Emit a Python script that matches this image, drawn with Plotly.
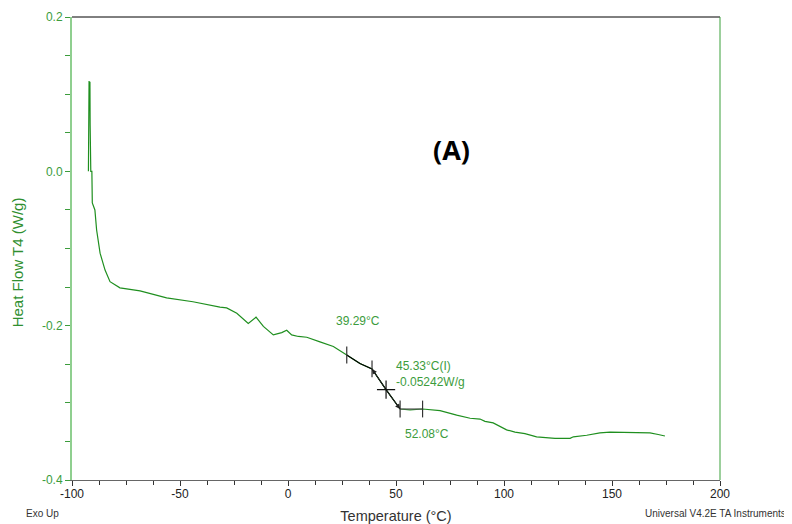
import plotly.graph_objects as go

# Heat-flow curve (Temperature °C, Heat Flow W/g)
temperature = [-92.4, -92.3, -92.1, -91.9, -91.7, -91.6, -91.5, -91.3, -91.0, -90.8, -90.6,
               -89.4, -88.6, -87.0, -84.7, -82.4, -77.8, -68.5, -56.2, -44.0, -31.5,
               -28.4, -23.7, -18.4, -14.8, -11.4, -6.8, -2.9, -0.6, 1.7, 4.8, 8.7,
               14.8, 21.0, 27.2, 33.3, 38.9, 45.4, 51.9, 56.5, 62.3, 70.4, 78.1,
               84.3, 88.9, 91.2, 95.0, 98.1, 101.2, 105.1, 109.7, 115.1, 118.2,
               123.6, 130.6, 132.1, 138.3, 144.4, 149.1, 159.9, 167.6, 171.4, 174.5]
heat_flow = [0.0, 0.112, 0.117, 0.108, 0.116, 0.06, 0.004, 0.0, 0.0, 0.0, -0.041,
             -0.050, -0.076, -0.106, -0.128, -0.143, -0.151, -0.155, -0.164, -0.169, -0.176,
             -0.177, -0.184, -0.197, -0.189, -0.201, -0.212, -0.209, -0.206, -0.212, -0.214, -0.215,
             -0.221, -0.227, -0.238, -0.249, -0.256, -0.283, -0.308, -0.309, -0.308, -0.310, -0.316,
             -0.320, -0.321, -0.324, -0.326, -0.331, -0.335, -0.338, -0.340, -0.344, -0.345,
             -0.346, -0.346, -0.344, -0.342, -0.339, -0.338, -0.339, -0.339, -0.341, -0.343]

# Glass-transition analysis
tg_line_t = [27.2, 33.3, 38.9, 45.4, 51.9]
tg_line_y = [-0.238, -0.249, -0.256, -0.283, -0.308]
end_line_t = [51.9, 62.3]
end_line_y = [-0.308, -0.308]
tick_t = [27.2, 38.9, 51.9, 62.3]
tick_y = [-0.238, -0.256, -0.308, -0.308]
inflection_t = [45.4]
inflection_y = [-0.283]

x_ticks = [-100, -50, 0, 50, 100, 150, 200]
x_ticklabels = ["-100", "-50", "0", "50", "100", "150", "200"]
y_ticks = [-0.4, -0.2, 0.0, 0.2]
y_ticklabels = ["-0.4", "-0.2", "0.0", "0.2"]

curve_color = "#1f8f1f"
text_green = "#3c9c3c"

fig = go.Figure()
fig.add_trace(go.Scatter(x=temperature, y=heat_flow, mode="lines",
                         line=dict(color=curve_color, width=1.2), showlegend=False))
fig.add_trace(go.Scatter(x=tg_line_t, y=tg_line_y, mode="lines",
                         line=dict(color="black", width=1.2), showlegend=False))
fig.add_trace(go.Scatter(x=end_line_t, y=end_line_y, mode="lines",
                         line=dict(color="#555555", width=1.2), showlegend=False))
fig.add_trace(go.Scatter(x=tick_t, y=tick_y, mode="markers",
                         marker=dict(symbol="line-ns", size=12, line=dict(color="#333333", width=1.2)),
                         showlegend=False))
fig.add_trace(go.Scatter(x=inflection_t, y=inflection_y, mode="markers",
                         marker=dict(symbol="cross-thin", size=13, line=dict(color="#111111", width=1.2)),
                         showlegend=False))

# arrows from inflection to onset / end points
fig.add_annotation(x=38.9, y=-0.256, ax=45.4, ay=-0.283, xref="x", yref="y", axref="x", ayref="y",
                   showarrow=True, arrowhead=2, arrowsize=1, arrowwidth=1, arrowcolor="#222222", text="")
fig.add_annotation(x=51.9, y=-0.308, ax=45.4, ay=-0.283, xref="x", yref="y", axref="x", ayref="y",
                   showarrow=True, arrowhead=2, arrowsize=1, arrowwidth=1, arrowcolor="#222222", text="")

fig.add_annotation(x=32.4, y=-0.194, text="39.29°C", showarrow=False,
                   font=dict(size=12, color=text_green, family="Liberation Sans, Arial"))
fig.add_annotation(x=49.3, y=-0.263, text="45.33°C(I)<br>-0.05242W/g", showarrow=False,
                   xanchor="left", align="left",
                   font=dict(size=12, color=text_green, family="Liberation Sans, Arial"))
fig.add_annotation(x=64.4, y=-0.340, text="52.08°C", showarrow=False,
                   font=dict(size=12, color=text_green, family="Liberation Sans, Arial"))

fig.add_annotation(x=75.9, y=0.028, text="<b>(A)</b>", showarrow=False,
                   font=dict(size=27, color="black", family="Open Sans, DejaVu Sans"))

fig.add_annotation(x=-0.085, y=0.47, xref="paper", yref="paper", text="Heat Flow T4 (W/g)",
                   textangle=-90, showarrow=False, xanchor="center", yanchor="middle",
                   font=dict(size=15, color="#2f8f2f", family="Liberation Sans, Arial"))
fig.add_annotation(x=-0.074, y=-0.073, xref="paper", yref="paper", text="Exo Up",
                   xanchor="left", yanchor="middle", showarrow=False,
                   font=dict(size=10, color="#333333", family="Liberation Sans, Arial"))
fig.add_annotation(x=1.105, y=-0.073, xref="paper", yref="paper", text="Universal V4.2E TA Instruments",
                   xanchor="right", yanchor="middle", showarrow=False,
                   font=dict(size=10, color="#333333", family="Liberation Sans, Arial"))

# frame lines: top black, right green
fig.add_shape(type="line", xref="paper", yref="paper", x0=0, x1=1, y0=1, y1=1,
              line=dict(color="black", width=1))
fig.add_shape(type="line", xref="paper", yref="paper", x0=1, x1=1, y0=0, y1=1,
              line=dict(color="#3aa03a", width=1))

# page body has an 8px margin, so the figure is drawn 8px in from the top-left
fig.update_layout(
    width=784, height=516,
    margin=dict(l=64, r=72, t=9, b=44, autoexpand=False),
    plot_bgcolor="white", paper_bgcolor="white",
    font=dict(family="Liberation Sans, Arial", size=12, color="#222222"),
    xaxis=dict(range=[-100, 200], tickmode="array", tickvals=x_ticks, ticktext=x_ticklabels,
               automargin=False, ticklabelstandoff=-2,
               showgrid=False, zeroline=False, showline=True, linecolor="#666666", linewidth=1,
               ticks="outside", ticklen=5, tickcolor="#333333",
               minor=dict(tickvals=[-87.5, -75, -62.5, -37.5, -25, -12.5, 12.5, 25, 37.5,
                                    62.5, 75, 87.5, 112.5, 125, 137.5, 162.5, 175, 187.5],
                          ticks="outside", ticklen=4, tickcolor="#333333"),
               tickfont=dict(size=12, color="#222222"),
               title=dict(text="Temperature (°C)", standoff=10,
                          font=dict(size=14.5, color="#333333"))),
    yaxis=dict(range=[-0.4, 0.2], tickmode="array", tickvals=y_ticks, ticktext=y_ticklabels,
               automargin=False,
               showgrid=False, zeroline=False, showline=True, linecolor="#8fcf8f", linewidth=2,
               ticks="outside", ticklen=5, tickcolor="#3c9c3c",
               minor=dict(tickvals=[-0.35, -0.3, -0.25, -0.15, -0.1, -0.05, 0.05, 0.1, 0.15],
                          ticks="outside", ticklen=5, tickcolor="#3c9c3c"),
               tickfont=dict(size=12, color=text_green)),
)

fig.write_html("out.html")
